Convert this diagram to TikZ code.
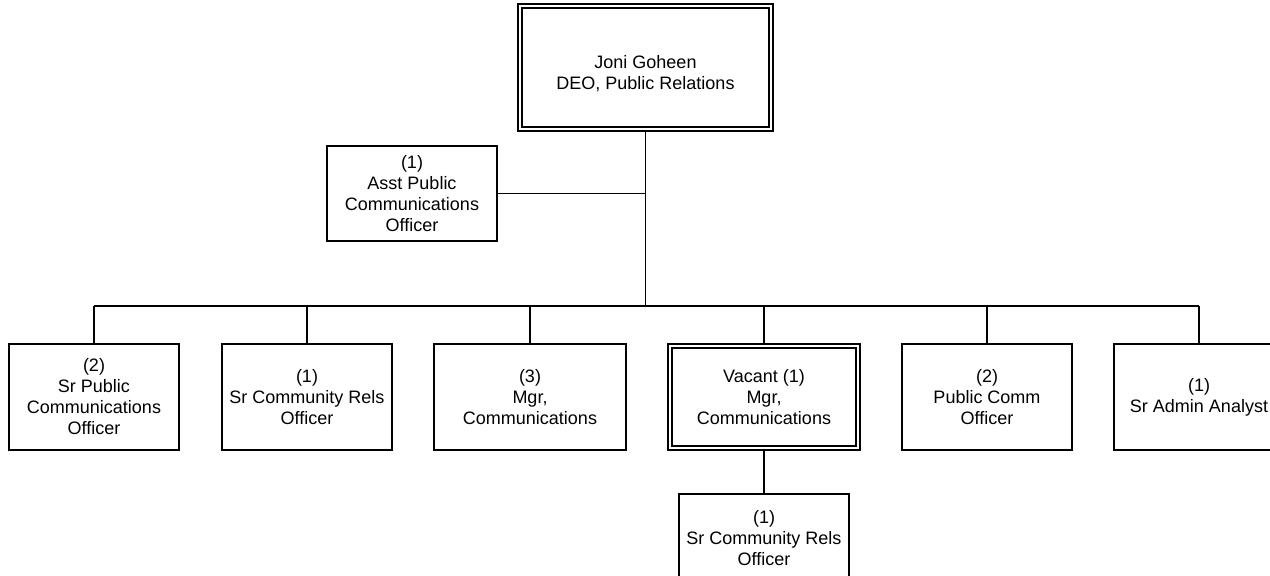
\documentclass[tikz,border=0pt]{standalone}
\usepackage{fontspec}
\setmainfont{Liberation Sans}
\begin{document}
\begin{tikzpicture}[x=1pt,y=-1pt,
  box/.style={draw, line width=1.5pt, align=center, inner sep=0pt,
    minimum width=170pt, minimum height=106pt,
    font=\fontsize{18}{21}\selectfont},
  dbox/.style={box, double, double distance=2.6pt, line width=1.3pt},
  conn/.style={line width=1.5pt}]
\useasboundingbox (0,0) rectangle (1270,576);

\node[dbox, minimum width=251pt, minimum height=123pt, text height=47pt] (top) at (645.5,67.5)
  {Joni Goheen\\DEO, Public Relations};
\node[box, minimum height=95pt] (asst) at (412,193.5)
  {(1)\\Asst Public\\Communications\\Officer};

\node[box] (b1) at (94,397) {(2)\\Sr Public\\Communications\\Officer};
\node[box] (b2) at (307,397) {(1)\\Sr Community Rels\\Officer};
\node[box, minimum width=192pt] (b3) at (530,397) {(3)\\Mgr,\\Communications};
\node[dbox, minimum width=188pt, minimum height=102pt] (b4) at (764,397)
  {Vacant (1)\\Mgr,\\Communications};
\node[box] (b5) at (987,397) {(2)\\Public Comm\\Officer};
\node[box] (b6) at (1199,397) {(1)\\Sr Admin Analyst};
\node[box, anchor=north, minimum height=88pt] (c1) at (764,493)
  {(1)\\Sr Community Rels\\Officer};

\coordinate (aj) at (645.5,193.5);
\coordinate (busM) at (645.5,306);
\coordinate (bL) at (94,306);
\coordinate (bR) at (1199,306);

\draw[conn] (top.south) -- (busM);
\draw[conn] (asst.east) -- (aj);
\draw[conn] (bL) -- (bR);
\foreach \n in {b1,b2,b3,b4,b5,b6}
  \draw[conn] (\n.north) -- (\n.north |- bL);
\draw[conn] (b4.south) -- (c1.north);
\end{tikzpicture}
\end{document}
